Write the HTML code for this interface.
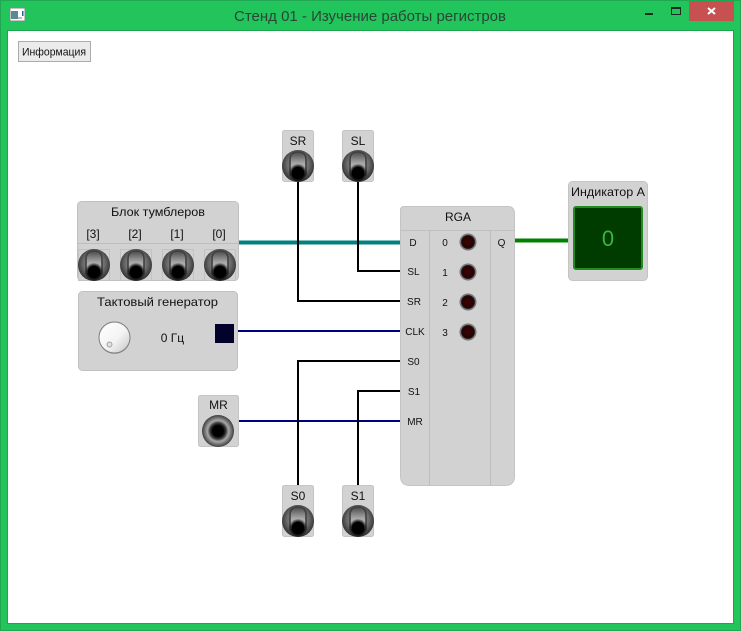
<!DOCTYPE html>
<html><head><meta charset="utf-8">
<style>
html,body{margin:0;padding:0;background:#22c55b}
svg{display:block}
text{font-family:"Liberation Sans","DejaVu Sans",sans-serif;fill:#111}
</style></head><body>
<svg width="741" height="631" viewBox="0 0 741 631" xmlns="http://www.w3.org/2000/svg">
<defs>
<radialGradient id="ball" cx="50%" cy="45%" r="55%">
<stop offset="0" stop-color="#8e8e8e"/><stop offset="0.6" stop-color="#6e6e6e"/><stop offset="1" stop-color="#2e2e2e"/>
</radialGradient>
<linearGradient id="lev" x1="0" y1="0" x2="0" y2="1">
<stop offset="0" stop-color="#4a4a4a"/><stop offset="0.5" stop-color="#a8a8a8"/><stop offset="0.8" stop-color="#b8b8b8"/><stop offset="1" stop-color="#808080"/>
</linearGradient>
<radialGradient id="dot" cx="50%" cy="50%" r="50%">
<stop offset="0" stop-color="#000"/><stop offset="0.65" stop-color="#000"/><stop offset="1" stop-color="#000" stop-opacity="0.1"/>
</radialGradient>
<radialGradient id="mr" cx="50%" cy="50%" r="50%">
<stop offset="0" stop-color="#000"/><stop offset="0.34" stop-color="#000"/><stop offset="0.5" stop-color="#3a3a3a"/><stop offset="0.66" stop-color="#a8a8a8"/><stop offset="0.85" stop-color="#6c6c6c"/><stop offset="1" stop-color="#3c3c3c"/>
</radialGradient>
<linearGradient id="knob" x1="0" y1="0" x2="1" y2="1">
<stop offset="0" stop-color="#fff"/><stop offset="0.55" stop-color="#f4f4f4"/><stop offset="1" stop-color="#c4c4c4"/>
</linearGradient>
<radialGradient id="led" cx="50%" cy="50%" r="50%">
<stop offset="0" stop-color="#3c0404"/><stop offset="0.66" stop-color="#2a0202"/><stop offset="0.76" stop-color="#111"/><stop offset="0.88" stop-color="#888"/><stop offset="1" stop-color="#666"/>
</radialGradient>
<g id="tog">
<circle r="16" fill="url(#ball)"/>
<path d="M-8,9 L-8,-6 Q-8,-14 0,-14 Q8,-14 8,-6 L8,9 Z" fill="url(#lev)" stroke="#404040" stroke-width="1.6"/>
<circle cy="7" r="9" fill="url(#dot)"/>
</g>
<g id="led1"><circle r="8.5" fill="url(#led)"/></g>
</defs>

<!-- window frame -->
<rect x="0" y="0" width="741" height="631" fill="#22c55b"/>
<rect x="0.5" y="0.5" width="740" height="630" fill="none" stroke="#1fa851"/>
<rect x="7.5" y="30.5" width="726" height="593" fill="#fff" stroke="#1ea64f"/>

<!-- icon -->
<rect x="10" y="8" width="15" height="13" fill="#fff" stroke="#888"/>
<rect x="11" y="11" width="7" height="8" fill="#5d8a8c"/>
<rect x="18" y="17" width="4" height="2" fill="#bbb"/>
<rect x="22" y="11" width="1.5" height="5" fill="#1a6d8e"/>

<!-- title -->
<text x="370" y="21" text-anchor="middle" font-size="15" textLength="272" lengthAdjust="spacingAndGlyphs" style="fill:#2c4436">Стенд 01 - Изучение работы регистров</text>

<!-- window buttons -->
<rect x="645" y="13" width="8" height="2" fill="#1f2a24"/>
<rect x="671.5" y="7.5" width="9" height="7" fill="none" stroke="#1f2a24"/>
<rect x="671" y="7" width="10" height="2" fill="#1f2a24"/>
<rect x="689" y="1" width="45" height="20" fill="#c75050"/>
<path d="M708,8 L715,14 M715,8 L708,14" stroke="#fff" stroke-width="2"/>

<!-- info button -->
<rect x="18.5" y="41.5" width="72" height="20" fill="#ebebeb" stroke="#acacac"/>
<text x="54" y="55.5" text-anchor="middle" font-size="11" textLength="64" lengthAdjust="spacingAndGlyphs">Информация</text>

<!-- wires -->
<g fill="none">
<path d="M239,242.5 H400" stroke="#008080" stroke-width="4"/>
<path d="M515,240.5 H568" stroke="#008000" stroke-width="4"/>
<path d="M234,331 H400" stroke="#000080" stroke-width="2"/>
<path d="M239,421 H400" stroke="#000080" stroke-width="2"/>
<path d="M358,182 V271 H400" stroke="#000" stroke-width="2"/>
<path d="M298,182 V301 H400" stroke="#000" stroke-width="2"/>
<path d="M298,485 V361 H400" stroke="#000" stroke-width="2"/>
<path d="M358,485 V391 H400" stroke="#000" stroke-width="2"/>
</g>

<!-- toggle block -->
<rect x="77.5" y="201.5" width="161" height="79" rx="4" fill="#d2d2d2" stroke="#c0c0c0"/>
<line x1="78" y1="243.5" x2="238" y2="243.5" stroke="#bdbdbd"/>
<text x="158" y="216" text-anchor="middle" font-size="12" textLength="94" lengthAdjust="spacingAndGlyphs">Блок тумблеров</text>
<g font-size="12" text-anchor="middle">
<text x="93" y="238">[3]</text><text x="135" y="238">[2]</text><text x="177" y="238">[1]</text><text x="219" y="238">[0]</text>
</g>
<g fill="none" stroke="#c2c2c2">
<rect x="78.5" y="249.5" width="31" height="31"/><rect x="120.5" y="249.5" width="31" height="31"/><rect x="162.5" y="249.5" width="31" height="31"/><rect x="204.5" y="249.5" width="31" height="31"/>
</g>
<use href="#tog" x="94" y="265"/><use href="#tog" x="136" y="265"/><use href="#tog" x="178" y="265"/><use href="#tog" x="220" y="265"/>

<!-- generator -->
<rect x="78.5" y="291.5" width="159" height="79" rx="4" fill="#d2d2d2" stroke="#c0c0c0"/>
<text x="157.5" y="306" text-anchor="middle" font-size="12" textLength="121" lengthAdjust="spacingAndGlyphs">Тактовый генератор</text>
<circle cx="114.5" cy="338.5" r="15.5" fill="#aaa"/>
<circle cx="114.5" cy="337.5" r="15.5" fill="url(#knob)" stroke="#7c7c7c"/>
<circle cx="109.5" cy="344.5" r="2.5" fill="#e0e0e0" stroke="#a0a0a0"/>
<text x="172.5" y="342" text-anchor="middle" font-size="12">0 Гц</text>
<rect x="215" y="324" width="19" height="19" fill="#02022a"/>

<!-- MR -->
<rect x="198.5" y="395.5" width="40" height="51" rx="2" fill="#d2d2d2" stroke="#c4c4c4"/>
<text x="218.5" y="409" text-anchor="middle" font-size="12">MR</text>
<circle cx="218" cy="431" r="16" fill="url(#mr)"/>

<!-- SR SL S0 S1 -->
<rect x="282.5" y="130.5" width="31" height="51" rx="2" fill="#d2d2d2" stroke="#c4c4c4"/>
<text x="298" y="145" text-anchor="middle" font-size="12">SR</text>
<use href="#tog" x="298" y="166"/>
<rect x="342.5" y="130.5" width="31" height="51" rx="2" fill="#d2d2d2" stroke="#c4c4c4"/>
<text x="358" y="145" text-anchor="middle" font-size="12">SL</text>
<use href="#tog" x="358" y="166"/>
<rect x="282.5" y="485.5" width="31" height="51" rx="2" fill="#d2d2d2" stroke="#c4c4c4"/>
<text x="298" y="500" text-anchor="middle" font-size="12">S0</text>
<use href="#tog" x="298" y="521"/>
<rect x="342.5" y="485.5" width="31" height="51" rx="2" fill="#d2d2d2" stroke="#c4c4c4"/>
<text x="358" y="500" text-anchor="middle" font-size="12">S1</text>
<use href="#tog" x="358" y="521"/>

<!-- RGA -->
<path d="M404,206.5 H508 Q514.5,206.5 514.5,214 V476 Q514.5,485.5 505,485.5 H410 Q400.5,485.5 400.5,476 V210 Q400.5,206.5 404,206.5 Z" fill="#d2d2d2" stroke="#c4c4c4"/>
<line x1="401" y1="230.5" x2="514" y2="230.5" stroke="#c0c0c0"/>
<line x1="429.5" y1="231" x2="429.5" y2="485" stroke="#bdbdbd"/>
<line x1="490.5" y1="231" x2="490.5" y2="485" stroke="#bdbdbd"/>
<text x="458" y="221" text-anchor="middle" font-size="12">RGA</text>
<g font-size="10" text-anchor="middle">
<text x="413" y="246">D</text>
<text x="413.5" y="275">SL</text>
<text x="414" y="305">SR</text>
<text x="415" y="335">CLK</text>
<text x="413.5" y="365">S0</text>
<text x="414" y="395">S1</text>
<text x="415" y="425">MR</text>
<text x="445" y="246">0</text>
<text x="445" y="276">1</text>
<text x="445" y="306">2</text>
<text x="445" y="336">3</text>
<text x="501.5" y="246">Q</text>
</g>
<use href="#led1" x="468" y="242"/><use href="#led1" x="468" y="272"/><use href="#led1" x="468" y="302"/><use href="#led1" x="468" y="332"/>

<!-- indicator -->
<rect x="568.5" y="181.5" width="79" height="99" rx="4" fill="#d2d2d2" stroke="#c4c4c4"/>
<text x="608" y="196" text-anchor="middle" font-size="12" textLength="74" lengthAdjust="spacingAndGlyphs">Индикатор А</text>
<rect x="574" y="207" width="68" height="62" rx="2" fill="#003c00" stroke="#228b22" stroke-width="2"/>
<text x="608" y="246" text-anchor="middle" font-size="22" style="fill:#3cb43c">0</text>
</svg>
</body></html>
